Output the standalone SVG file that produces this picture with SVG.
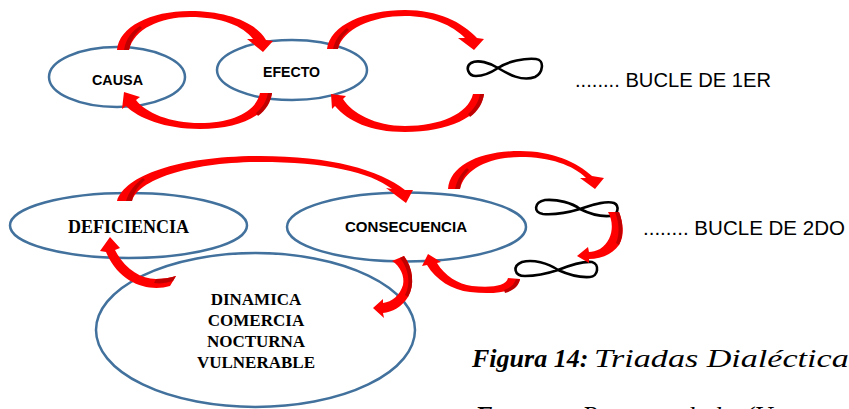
<svg xmlns="http://www.w3.org/2000/svg" width="849" height="409" viewBox="0 0 849 409">
<style>
.ell{fill:none;stroke:#41719C;stroke-width:2.5}
.inf{fill:none;stroke:#000;stroke-width:2.6;stroke-linejoin:round}
.arr{fill:#FF0000}
.shade{fill:#C00000}
.sans{font-family:"Liberation Sans",Arial,sans-serif;fill:#000}
.lbl{font-weight:bold;font-size:15px}
.serif{font-family:"Liberation Serif","Times New Roman",serif;font-weight:bold;fill:#000}
.bucle{font-size:19.5px}
.cap{font-family:"Liberation Serif","Times New Roman",serif;font-size:26px;font-style:italic;fill:#000}
</style>
<rect width="849" height="409" fill="#fff"/>
<g id="node-causa">
<ellipse class="ell" cx="117" cy="77" rx="68" ry="30"/>
<text class="sans lbl" x="92" y="85" textLength="51" lengthAdjust="spacingAndGlyphs">CAUSA</text>
</g>
<g id="node-efecto">
<ellipse class="ell" cx="292" cy="70" rx="75" ry="30"/>
<text class="sans lbl" x="263" y="77" textLength="57" lengthAdjust="spacingAndGlyphs">EFECTO</text>
</g>
<g id="node-inf1">
<path class="inf" d="M498,68 C508,61 525,58 536,59 C545,60 543,73 535,77 C522,82 508,74 498,68 C490,63 478,59 471,63 C465,67 468,76 476,76 C485,76 492,72 498,68 Z"/>
</g>
<g id="label-bucle1">
<text class="sans bucle" x="575" y="87" textLength="196" lengthAdjust="spacingAndGlyphs">........ BUCLE DE 1ER</text>
</g>
<g id="node-deficiencia">
<ellipse class="ell" cx="128.5" cy="225.5" rx="118.5" ry="32.5"/>
<text class="serif" x="128.5" y="233" font-size="18" text-anchor="middle">DEFICIENCIA</text>
</g>
<g id="node-consecuencia">
<ellipse class="ell" cx="406.5" cy="227" rx="119.5" ry="34.5"/>
<text class="sans lbl" x="345" y="232" textLength="122" lengthAdjust="spacingAndGlyphs">CONSECUENCIA</text>
</g>
<g id="node-dinamica">
<ellipse class="ell" cx="255.5" cy="330" rx="159.5" ry="77"/>
<text class="serif" font-size="17" text-anchor="middle"><tspan x="256" y="305">DINAMICA</tspan><tspan x="256" y="326">COMERCIA</tspan><tspan x="256" y="347">NOCTURNA</tspan><tspan x="256" y="368">VULNERABLE</tspan></text>
</g>
<g id="node-inf2">
<path class="inf" d="M580,209 C572,203 558,199 545,200 C534,202 533,213 543,214 C556,215 570,212 580,209 C590,206 605,200 614,203 C620,206 618,216 610,216 C598,217 588,213 580,209 Z"/>
</g>
<g id="node-inf3">
<path class="inf" d="M558,270 C548,263 533,259 522,262 C512,266 514,276 525,276 C538,276 549,273 558,270 C568,266 582,261 592,262 C600,264 598,277 590,277 C578,278 567,274 558,270 Z"/>
</g>
<g id="label-bucle2">
<text class="sans bucle" x="643" y="235" textLength="202" lengthAdjust="spacingAndGlyphs">........ BUCLE DE 2DO</text>
</g>
<g id="connectors">
<path class="arr" d="M117,50 C119,27 150,11 190,11 C226,11 256,22 266,40 L273,41 L263,52 L247,39 L253,39 C243,26 222,17 190,17 C160,17 134,29 129,50 Z"/>
<path class="shade" d="M124,50 C126,38 132,31 140,26 L142,28 C135,33 131,40 129,50 Z"/>
<path class="arr" d="M272,93 C268,115 240,129 200,129 C165,129 138,118 126,106 L122,109 L124,92 L140,97 L136,100 C146,113 170,123 200,123 C232,123 256,112 260,93 Z"/>
<path class="shade" d="M268,93 C266,102 262,108 256,113 L258,116 C266,110 271,102 272,93 Z"/>
<path class="arr" d="M327,49 C330,25 365,10 405,10 C438,10 462,22 477,38 L484,39 L474,50 L458,38 L465,38 C452,25 432,16 405,16 C372,16 343,29 338,49 Z"/>
<path class="shade" d="M333,49 C335,40 340,33 347,28 L349,30 C343,35 339,41 338,49 Z"/>
<path class="arr" d="M484,94 C481,117 448,132 405,132 C370,132 348,121 335,106 L332,109 L331,94 L346,96 L343,99 C352,113 375,126 405,126 C440,126 468,114 473,94 Z"/>
<path class="shade" d="M480,94 C478,103 474,109 468,114 L470,117 C478,111 483,103 484,94 Z"/>
<path class="arr" d="M117,201 C125,175 180,156 260,156 C330,156 380,170 405,190 L413,190 L406,203 L386,188 L392,189 C370,172 325,162 260,162 C190,162 138,180 132,201 Z"/>
<path class="shade" d="M126,201 C129,191 135,184 143,178 L145,180 C138,186 134,192 132,201 Z"/>
<path class="arr" d="M448,189 C450,165 480,151 520,151 C552,151 577,162 592,176 L604,178 L595,189 L580,178 L586,178 C573,165 550,157 520,157 C488,157 464,170 460,189 Z"/>
<path class="shade" d="M455,189 C457,180 461,173 467,168 L469,170 C464,175 461,181 460,189 Z"/>
<path class="arr" d="M608,212 C614,222 614,240 600,249 C596,251 592,252 589,252 L588,247 L577,256 L589,263 L589,259 C600,259 612,255 619,245 C625,235 623,222 619,212 Z"/>
<path class="shade" d="M615,212 C619,222 620,234 616,243 L619,245 C624,235 623,222 619,212 Z"/>
<path class="arr" d="M520,279 C517,292 495,295 470,292 C452,290 436,280 427,265 L422,266 L428,254 L441,262 L437,263 C445,276 458,284 472,286 C492,288 506,286 508,278 Z"/>
<path class="shade" d="M516,279 C514,285 510,288 504,290 L505,293 C513,291 519,286 520,279 Z"/>
<path class="arr" d="M176,276 L170,286 C150,292 120,285 106,252 L100,251 L110,237 L120,248 L115,250 C124,268 140,279 156,279 C163,279 170,278 176,276 Z"/>
<path class="shade" d="M176,276 L173,281 C166,283 160,284 154,283 L156,279 C163,279 170,278 176,276 Z"/>
<path class="arr" d="M392,261 L404,256 C413,268 415,285 408,297 C402,307 392,312 383,313 L384,318 L373,308 L383,299 L383,303 C392,302 400,295 403,285 C405,276 400,266 392,261 Z"/>
<path class="shade" d="M400,258 L404,256 C413,268 415,285 408,297 L405,295 C411,284 409,269 400,258 Z"/>
</g>
<g id="caption">
<text class="cap" x="472" y="367" font-weight="bold">Figura 14:</text>
<text class="cap" x="594" y="367" textLength="268" lengthAdjust="spacingAndGlyphs">Triadas Dialécticas</text>
<text class="cap" y="424"><tspan x="475" font-weight="bold">Fuente:</tspan><tspan x="582">Recuperado</tspan><tspan x="708">de</tspan><tspan x="745">(U</tspan></text>
</g>
</svg>
